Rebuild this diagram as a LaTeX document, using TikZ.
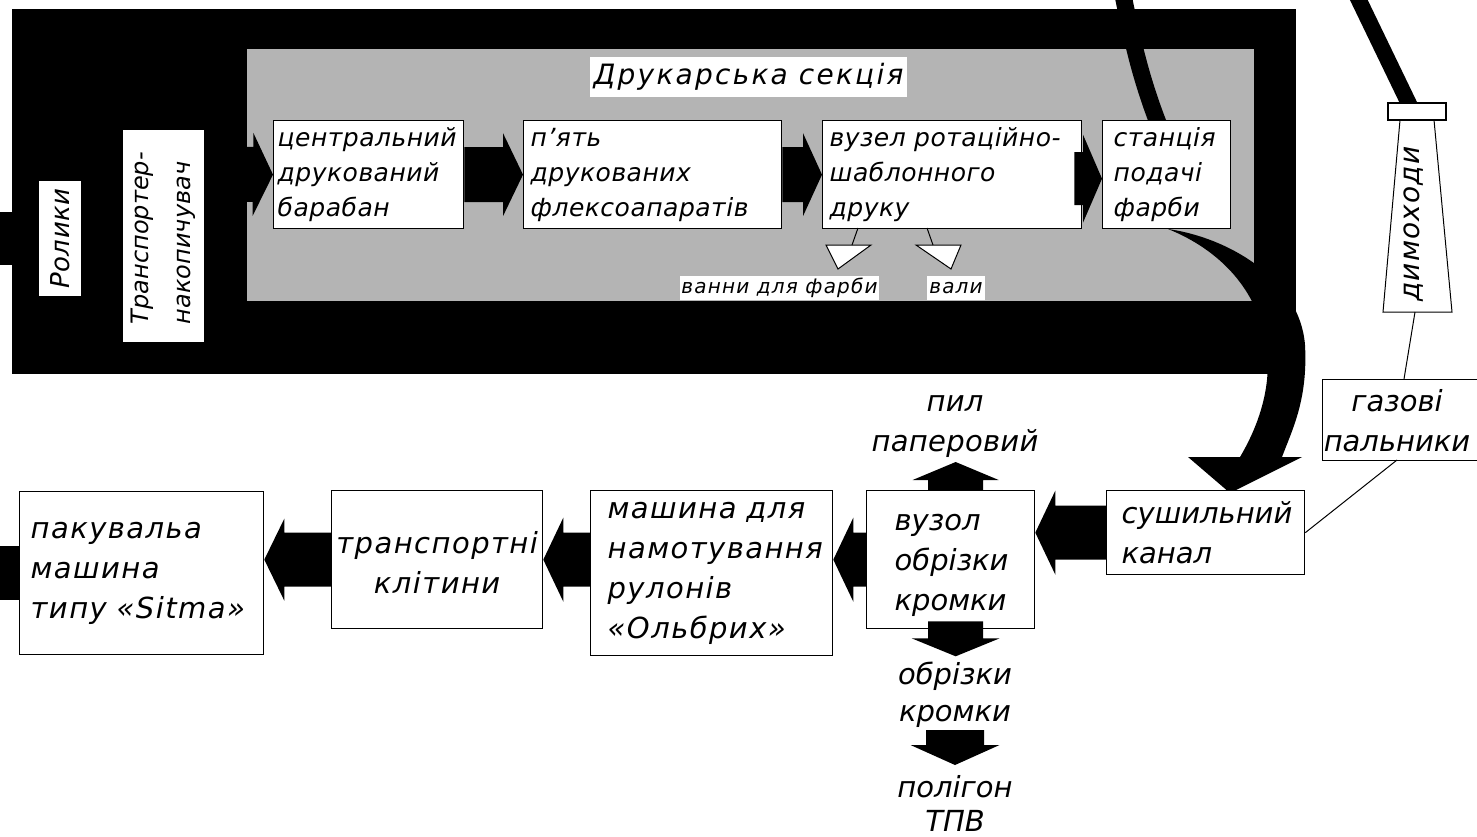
\documentclass[tikz,border=0pt]{standalone}
\usepackage{fontspec}
\setmainfont{DejaVu Sans}[LetterSpace=2]
\usetikzlibrary{calc}
\definecolor{panel}{RGB}{180,180,180}
% block arrow: #1 start, #2 tip, #3 shaft half width, #4 head half width, #5 head length
\newcommand\blockarrow[5]{%
  \coordinate (bahead) at ($(#2)!#5!(#1)$);
  \fill[black] ($(#1)!#3!90:(#2)$) -- ($(bahead)!#3!90:(#2)$) -- ($(bahead)!#4!90:(#2)$) -- (#2)
    -- ($(bahead)!#4!-90:(#2)$) -- ($(bahead)!#3!-90:(#2)$) -- ($(#1)!#3!-90:(#2)$) -- cycle;}
\begin{document}
\begin{tikzpicture}[x=1pt,y=-1pt,
  box/.style={draw=black, fill=white, line width=1.3pt, inner ysep=0pt, anchor=north west},
  ttext/.style={font=\itshape\fontsize{25}{35}\selectfont, align=left},
  btext/.style={font=\itshape\fontsize{29}{40}\selectfont\addfontfeatures{LetterSpace=5}},
  bntext/.style={font=\itshape\fontsize{29}{40}\selectfont\addfontfeatures{LetterSpace=0}},
  thin/.style={line width=1pt},
  label/.style={fill=white, inner sep=0pt, font=\itshape\fontsize{20}{22}\selectfont\addfontfeatures{LetterSpace=6}}]
\useasboundingbox (0,0) rectangle (1477,836);
\clip (0,0) rectangle (1477,836);
\fill[white] (0,0) rectangle (1477,836);

% frame of the printing machine
\fill[black] (12,9) rectangle (1296,374);
\draw[line width=53pt] (-10,238.5) -- (40,238.5);
\fill[panel] (247,49) rectangle (1254,301);

% feed lines from the top
\draw[line width=17pt] (1122,-10) .. controls (1132,40) and (1141,80) .. (1160,128);
\draw[line width=16pt] (1354,-10) -- (1410,106);

% big curved band from ink station to drying channel
\fill[black] (1168,229) .. controls (1230,238) and (1300,280) .. (1305,345)
  .. controls (1308,400) and (1292,430) .. (1282,457) -- (1240,457)
  .. controls (1262,420) and (1272,380) .. (1266,345)
  .. controls (1258,290) and (1220,250) .. (1168,229) -- cycle;
\fill[black] (1188,457) -- (1302,457) -- (1230,493) -- cycle;

% title
\node[fill=white, inner sep=0pt, minimum width=317pt, minimum height=40pt,
      font=\itshape\fontsize{28}{32}\selectfont\addfontfeatures{LetterSpace=8}] (title) at (748.5,77) {Друкарська секція};

% rotated boxes
\node[box, anchor=center, rotate=90, minimum width=117pt, minimum height=44pt, inner xsep=0pt,
      font=\itshape\fontsize{26}{30}\selectfont] (rol) at (60,238.5) {Ролики};
\node[box, anchor=center, rotate=90, minimum width=214pt, minimum height=83pt, inner sep=0pt,
      align=left, text width=200pt, font=\itshape\fontsize{24}{42}\selectfont\addfontfeatures{LetterSpace=0}] (trn) at (163.5,236)
      {\hspace*{12pt}Транспортер-\\\hspace*{12pt}накопичувач};

% top row boxes
\node[box, ttext, minimum width=190pt, minimum height=108pt, inner xsep=4pt, text width=182pt] (c1) at (273,120)
  {центральний\\друкований\\барабан};
\node[box, ttext, minimum width=258pt, minimum height=108pt, inner xsep=7pt, text width=244pt] (c2) at (523,120)
  {п’ять\\друкованих\\флексоапаратів};
\node[box, ttext, minimum width=259pt, minimum height=108pt, inner xsep=7pt, text width=245pt] (c3) at (822,120)
  {вузел ротаційно-\\шаблонного\\друку};
\node[box, ttext, minimum width=128pt, minimum height=108pt, inner xsep=11pt, text width=106pt] (c4) at (1102,120)
  {станція\\подачі\\фарби};

% top row arrows
\coordinate (s0) at (205,174);
\blockarrow{s0}{c1.west}{27.5pt}{41.5pt}{20pt}
\blockarrow{c1.east}{c2.west}{27.5pt}{41.5pt}{20pt}
\blockarrow{c2.east}{c3.west}{27.5pt}{41.5pt}{19pt}
\coordinate (s3) at ($(c3.east)+(-8,4)$);
\coordinate (t3) at ($(c4.west)+(0,4)$);
\blockarrow{s3}{t3}{26.5pt}{44pt}{19pt}

% ink baths and rollers
\draw[thin, fill=white] (826,245) -- (871,245) -- (838,269) -- cycle;
\draw[thin, fill=white] (916,245) -- (961,245) -- (951,269) -- cycle;
\draw[thin] (858,228) -- (852,245);
\draw[thin] (927,228) -- (933,245);
\node[label, minimum width=199pt, minimum height=24pt] (vann) at (779.5,288) {ванни для фарби};
\node[label, minimum width=58pt, minimum height=24pt] (vali) at (956,288) {вали};

% chimney
\draw[thin, fill=white] (1400,120) -- (1434,120) -- (1452,312) -- (1383,312) -- cycle;
\draw[line width=1.3pt, fill=white] (1388,103) rectangle (1446,120);
\node[rotate=90, inner sep=0pt, font=\itshape\fontsize{28}{32}\selectfont\addfontfeatures{LetterSpace=4}] (dym) at (1414,224) {димоходи};

% gas burners
\node[box, minimum width=180pt, minimum height=81pt, inner xsep=0pt] (gaz) at (1322,379) {};
\node[bntext, align=center, inner sep=0pt] (gazt) at (1397,421) {газові\\пальники};
\draw[thin] (1415,312) -- (gaz.north west -| 1404,0);
\coordinate (gz) at (1397,460);

% bottom row
\node[box, btext, align=left, minimum width=244pt, minimum height=163pt, inner xsep=11pt, text width=222pt] (pak) at (19,491)
  {пакувальа\\машина\\типу «Sitma»};
\node[box, btext, align=center, minimum width=211pt, minimum height=138pt, inner xsep=0pt, text width=211pt] (trans) at (331,490)
  {\strut транспортні\\клітини};
\node[box, btext, align=left, minimum width=242pt, minimum height=165pt, inner xsep=17pt, text width=208pt] (mash) at (590,490)
  {машина  для\\намотування\\рулонів\\«Ольбрих»};
\node[box, bntext, align=left, minimum width=168pt, minimum height=138pt, inner xsep=28pt, text width=112pt] (vuz) at (866,490)
  {\strut вузол\\обрізки\\кромки};
\node[box, bntext, align=left, minimum width=198pt, minimum height=84pt, inner xsep=15pt, text width=168pt] (sush) at (1106,490)
  {сушильний\\канал};
\draw[thin] (gz) -- (sush.east);

% texts around the edge trimming unit
\node[font=\itshape\fontsize{29}{40}\selectfont\addfontfeatures{LetterSpace=1}, align=center, inner sep=0pt] (pil) at (955,427) {пил\\паперовий};
\node[font=\itshape\fontsize{29}{37}\selectfont\addfontfeatures{LetterSpace=0}, align=center, inner sep=0pt] (obr) at (955,695) {обрізки\\кромки};
\node[font=\itshape\fontsize{29}{34}\selectfont\addfontfeatures{LetterSpace=0}, align=center, inner sep=0pt] (pol) at (955,803) {полігон\\ТПВ};

% bottom arrows
\coordinate (b1) at (vuz.east |- sush.west);
\blockarrow{sush.west}{b1}{27pt}{42pt}{20pt}
\coordinate (b2) at (mash.east |- vuz.west);
\blockarrow{vuz.west}{b2}{27pt}{42pt}{20pt}
\coordinate (b3s) at (mash.west |- trans.east);
\blockarrow{b3s}{trans.east}{27pt}{42pt}{20pt}
\coordinate (b4) at (pak.east |- trans.west);
\blockarrow{trans.west}{b4}{27pt}{41pt}{20pt}
\draw[line width=54pt] (pak.west) -- ++(-30,0);

\coordinate (u0) at ($(vuz.north)+(5,0)$);
\coordinate (u1) at ($(vuz.north)+(5,-28)$);
\blockarrow{u0}{u1}{27.5pt}{43pt}{18pt}
\coordinate (d0) at ($(vuz.south)+(5,-8)$);
\coordinate (d1) at ($(vuz.south)+(5,27)$);
\blockarrow{d0}{d1}{27.5pt}{44pt}{18pt}
\coordinate (e0) at (955,730);
\coordinate (e1) at (955,765);
\blockarrow{e0}{e1}{29pt}{44.5pt}{20pt}
\end{tikzpicture}
\end{document}
